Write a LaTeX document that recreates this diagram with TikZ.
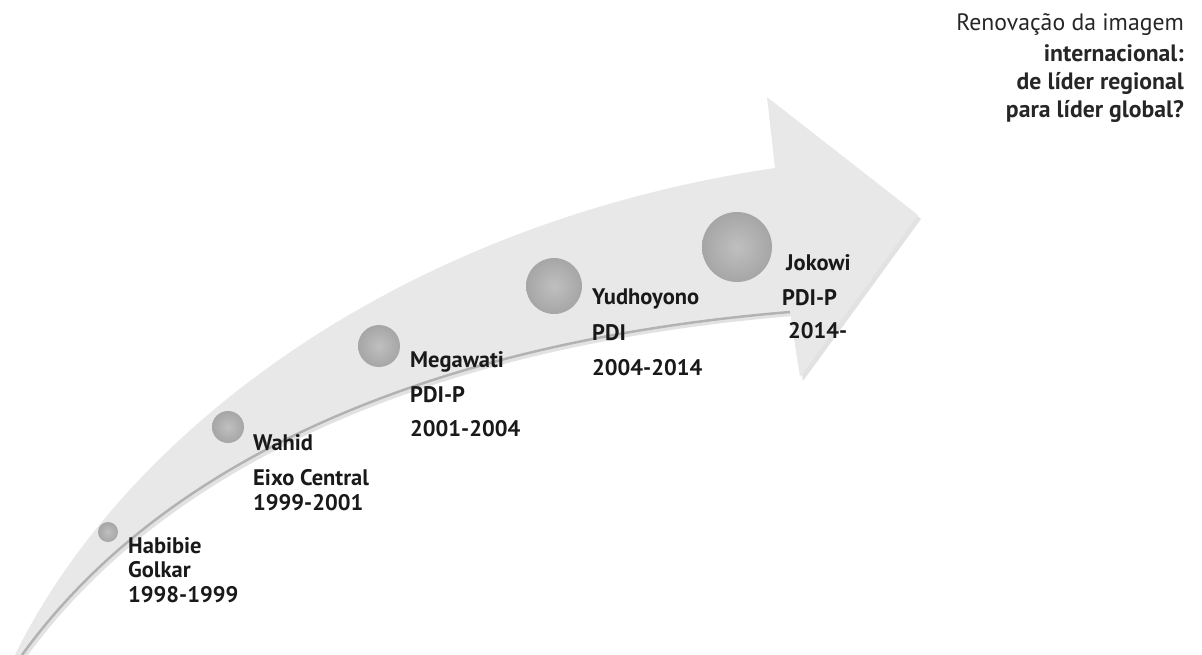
\documentclass[tikz,border=0pt]{standalone}
\usepackage{fontspec}
\setmainfont{PT Sans}
\begin{document}
\begin{tikzpicture}[
        x=0.02cm, y=-0.02cm,
        seta/.style={fill=gray!18},
        sombra/.style={fill=gray!50, opacity=0.45},
        borda/.style={gray!60, line width=1.4pt},
        esfera/.style={circle, inner sep=0pt, inner color=gray!50, outer color=gray!70},
        rotulo/.style={anchor=base west, text=black!90, font=\fontsize{12.8}{15}\selectfont\bfseries},
        titulo/.style={anchor=base east, text=black!85, font=\fontsize{13.5}{16}\selectfont}
    ]
        \useasboundingbox (0,0) rectangle (1202,655);

        % Seta (sombra e corpo)
        \fill[sombra, shift={(3,4)}] (15,655) .. controls (120,440) and (390,225) .. (775,168)
            -- (767,97) -- (918,215) -- (800,377) -- (790,312)
            .. controls (450,340) and (170,450) .. (22,655) -- cycle;
        \fill[seta] (15,655) .. controls (120,440) and (390,225) .. (775,168)
            -- (767,97) -- (918,215) -- (800,377) -- (790,312)
            .. controls (450,340) and (170,450) .. (22,655) -- cycle;
        \draw[borda] (790,312) .. controls (450,340) and (170,450) .. (22,655);

        % Esferas
        \node[esfera, minimum size=0.4cm] (bolaHabibie) at (108,532) {};
        \node[esfera, minimum size=0.64cm] (bolaWahid) at (228,427) {};
        \node[esfera, minimum size=0.84cm] (bolaMegawati) at (379,346) {};
        \node[esfera, minimum size=1.12cm] (bolaYudhoyono) at (554,286) {};
        \node[esfera, minimum size=1.4cm] (bolaJokowi) at (737,247) {};

        % Presidentes
        \node[rotulo] (habibie) at (122,553) {Habibie};
        \node[rotulo] (golkar) at (122,577) {Golkar};
        \node[rotulo] (anosHabibie) at (122,602) {1998-1999};

        \node[rotulo] (wahid) at (247,450) {Wahid};
        \node[rotulo] (eixo) at (247,485) {Eixo Central};
        \node[rotulo] (anosWahid) at (247,510) {1999-2001};

        \node[rotulo] (megawati) at (404,367) {Megawati};
        \node[rotulo] (pdipMegawati) at (404,402) {PDI-P};
        \node[rotulo] (anosMegawati) at (404,436) {2001-2004};

        \node[rotulo] (yudhoyono) at (586,304) {Yudhoyono};
        \node[rotulo] (pdi) at (586,340) {PDI};
        \node[rotulo] (anosYudhoyono) at (586,375) {2004-2014};

        \node[rotulo] (jokowi) at (780,270) {Jokowi};
        \node[rotulo] (pdipJokowi) at (776,305) {PDI-P};
        \node[rotulo] (anosJokowi) at (782,338) {2014-};

        % Titulo
        \node[titulo] (renovacao) at (1190,31) {Renovação da imagem};
        \node[titulo, font=\fontsize{13.5}{16}\selectfont\bfseries] (internacional) at (1190,62) {internacional:};
        \node[titulo, font=\fontsize{13.5}{16}\selectfont\bfseries] (regional) at (1190,90) {de líder regional};
        \node[titulo, font=\fontsize{13.5}{16}\selectfont\bfseries] (global) at (1190,118) {para líder global?};

    \end{tikzpicture}
\end{document}
